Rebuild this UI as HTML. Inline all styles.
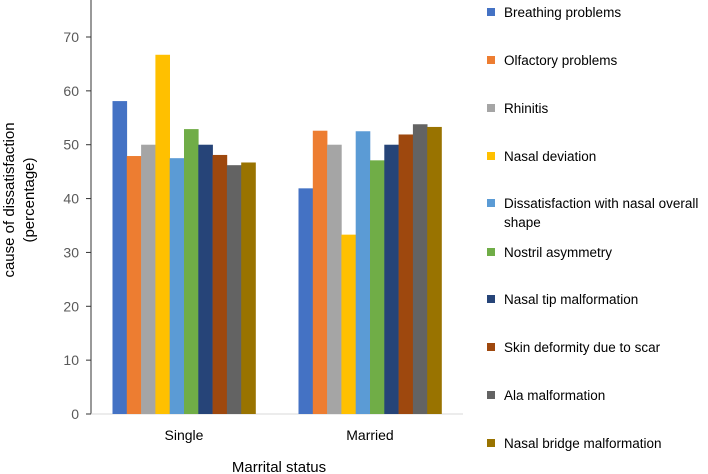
<!DOCTYPE html>
<html><head><meta charset="utf-8"><style>
body{margin:0;background:#fff;}
svg{display:block;font-family:"Liberation Sans",sans-serif;}
</style></head><body>
<svg id="chart" width="708" height="474"></svg>
<script>
const categories=["Single","Married"];
const seriesNames=["Breathing problems","Olfactory problems","Rhinitis","Nasal deviation","Dissatisfaction with nasal overall shape","Nostril asymmetry","Nasal tip malformation","Skin deformity due to scar","Ala malformation","Nasal bridge malformation"];
const singleValues=[58.1,47.9,50,66.7,47.5,52.9,50,48.1,46.2,46.7];
const marriedValues=[41.9,52.6,50,33.3,52.5,47.1,50,51.9,53.8,53.3];
const yTicks=[0,10,20,30,40,50,60,70];
const colors=["#4472C4","#ED7D31","#A5A5A5","#FFC000","#5B9BD5","#70AD47","#264478","#9E480E","#636363","#997300"];
const values=[singleValues,marriedValues];
const NS="http://www.w3.org/2000/svg";
const svg=document.getElementById('chart');
const X0=91,X1=463,Y0=414,Y70=37;
const y=v=>Y0-(v/70)*(Y0-Y70);
const catW=(X1-X0)/categories.length;
const groupW=143;
const barW=groupW/seriesNames.length;
function mk(tag,attrs,text){const e=document.createElementNS(NS,tag);for(const k in attrs)e.setAttribute(k,attrs[k]);if(text!==undefined)e.textContent=text;svg.appendChild(e);return e;}
let a=mk('line',{x1:X0,y1:0,x2:X0,y2:Y0,stroke:'#333','stroke-width':1});


a=mk('line',{x1:X0,y1:Y0,x2:X1,y2:Y0,stroke:'#d9d9d9','stroke-width':1});


yTicks.forEach(t=>{
 const l=mk('line',{x1:X0-5,y1:y(t),x2:X0,y2:y(t),stroke:'#333'});
 
 
 const tx=mk('text',{x:79,y:y(t)+5,'text-anchor':'end','font-size':14,fill:'#595959'},t);
 
 
});
categories.forEach((c,ci)=>{
 const gx=X0+ci*catW+(catW-groupW)/2;
 values[ci].forEach((v,si)=>{
  const r=mk('rect',{x:gx+si*barW,y:y(v),width:barW+0.3,height:Y0-y(v),fill:colors[si]});
  
  
 });
 const t=mk('text',{x:X0+ci*catW+catW/2,y:440,'text-anchor':'middle','font-size':14,fill:'#000'},c);
 
 
});
let t=mk('text',{x:279,y:472,'text-anchor':'middle','font-size':15,fill:'#000'},'Marrital status');


t=mk('text',{transform:'translate(14,200) rotate(-90)','text-anchor':'middle','font-size':15,fill:'#000'},'cause of dissatisfaction');


t=mk('text',{transform:'translate(34,200) rotate(-90)','text-anchor':'middle','font-size':15,fill:'#000'},'(percentage)');


const legendY=[12,60,108,156,203,252,299,347,395,443];
seriesNames.forEach((n,i)=>{
 const r=mk('rect',{x:487,y:legendY[i]-4,width:8,height:8,fill:colors[i]});
 
 
 if(i===4){
  const tt=mk('text',{x:504,y:legendY[i]+5,'font-size':13.5,fill:'#000'},'Dissatisfaction with nasal overall');
  
  
  const t2=mk('text',{x:504,y:legendY[i]+24,'font-size':13.5,fill:'#000'},'shape');
  
  
 } else {
  const tt=mk('text',{x:504,y:legendY[i]+5,'font-size':13.5,fill:'#000'},n);
  
  
 }
});
</script>
</body></html>
